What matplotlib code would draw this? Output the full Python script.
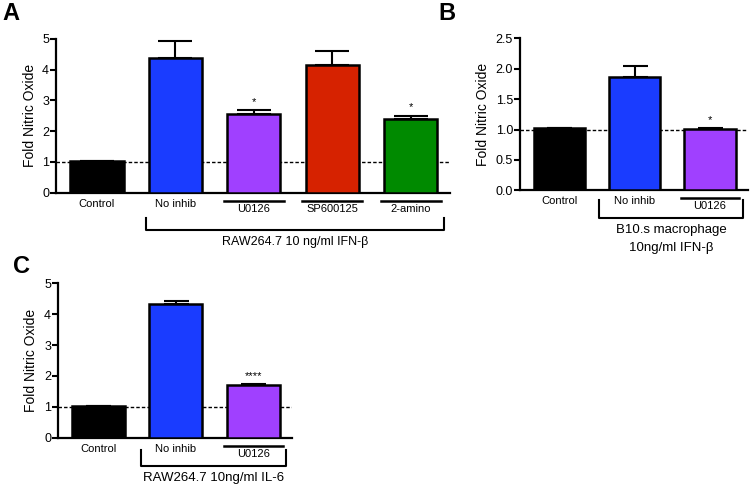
import matplotlib.pyplot as plt
import matplotlib.transforms as mtransforms

plt.rcParams['font.family'] = ['Liberation Sans', 'DejaVu Sans']

# Panel A: RAW264.7 + IFN-beta
a_labels = ["Control", "No inhib", "U0126", "SP600125", "2-amino"]
a_values = [1.02, 4.38, 2.56, 4.14, 2.41]
a_errors = [0.0, 0.54, 0.13, 0.47, 0.10]
a_colors = ["#000000", "#1a3cff", "#a040ff", "#d62200", "#008a00"]
a_stars = ["", "", "*", "", "*"]

# Panel B: B10.s macrophage + IFN-beta
b_labels = ["Control", "No inhib", "U0126"]
b_values = [1.02, 1.87, 1.01]
b_errors = [0.0, 0.17, 0.01]
b_colors = ["#000000", "#1a3cff", "#a040ff"]
b_stars = ["", "", "*"]

# Panel C: RAW264.7 + IL-6
c_labels = ["Control", "No inhib", "U0126"]
c_values = [1.03, 4.32, 1.72]
c_errors = [0.0, 0.10, 0.01]
c_colors = ["#000000", "#1a3cff", "#a040ff"]
c_stars = ["", "", "****"]


def draw_panel(ax, labels, values, errors, colors, stars, ylim, yticks, ytick_fmt,
               inhibitors, bracket, bracket_text, capsize, text_size=9.5):
    x = list(range(len(labels)))
    ax.bar(x, values, width=0.68, color=colors, edgecolor="black", linewidth=1.8, zorder=3)
    ax.errorbar(x, values, yerr=[[0] * len(errors), errors], fmt="none", ecolor="black",
                elinewidth=1.5, capsize=capsize, capthick=1.5, zorder=2)
    ax.axhline(1, color="black", linestyle=(0, (2.5, 1.5)), linewidth=1.0, zorder=1)
    for xi, v, e, s in zip(x, values, errors, stars):
        if s:
            ax.text(xi, v + e + 0.02 * ylim[1], s, ha="center", va="bottom", fontsize=8)

    ax.set_ylim(*ylim)
    ax.set_xlim(-0.52, len(labels) - 0.5)
    ax.set_yticks(yticks)
    ax.set_yticklabels([ytick_fmt.format(t) for t in yticks], fontsize=9)
    ax.set_ylabel("Fold Nitric Oxide", fontsize=10)
    ax.set_xticks([])
    for s in ["top", "right"]:
        ax.spines[s].set_visible(False)
    for s in ["left", "bottom"]:
        ax.spines[s].set_linewidth(1.6)
    ax.tick_params(axis="y", width=1.5, length=4, pad=1)

    trans = mtransforms.blended_transform_factory(ax.transData, ax.transAxes)
    h = ax.get_position().height * 486
    for xi, lab in zip(x, labels):
        if xi in inhibitors:
            ax.plot([xi - 0.38, xi + 0.38], [-8 / h, -8 / h], color="black", lw=1.8,
                    transform=trans, clip_on=False)
            ax.text(xi, -16 / h, lab, ha="center", va="center", fontsize=8, transform=trans)
        else:
            ax.text(xi, -11 / h, lab, ha="center", va="center", fontsize=8, transform=trans)

    x0, x1, ytop, ybot = bracket
    ax.plot([x0, x0, x1, x1], [ytop / h, ybot / h, ybot / h, ytop / h], color="black",
            lw=1.5, transform=trans, clip_on=False)
    ax.text((x0 + x1) / 2, (ybot - 6) / h, bracket_text, ha="center", va="top",
            fontsize=text_size, transform=trans, linespacing=1.6)


fig = plt.figure(figsize=(7.5, 4.86), dpi=100)

axA = fig.add_axes([0.0747, 0.6035, 0.5253, 0.3163])
draw_panel(axA, a_labels, a_values, a_errors, a_colors, a_stars, (0, 5), [0, 1, 2, 3, 4, 5],
           "{:d}", [2, 3, 4], (0.63, 4.42, -25, -37), "RAW264.7 10 ng/ml IFN-β", 12,
           text_size=9)

axB = fig.add_axes([0.6933, 0.6084, 0.3037, 0.3128])
draw_panel(axB, b_labels, b_values, b_errors, b_colors, b_stars, (0, 2.5),
           [0, 0.5, 1.0, 1.5, 2.0, 2.5], "{:.1f}", [2], (0.53, 2.44, -10, -28),
           "B10.s macrophage\n10ng/ml IFN-β", 9)

axC = fig.add_axes([0.0773, 0.0994, 0.312, 0.3177])
draw_panel(axC, c_labels, c_values, c_errors, c_colors, c_stars, (0, 5), [0, 1, 2, 3, 4, 5],
           "{:d}", [2], (0.55, 2.42, -12, -28), "RAW264.7 10ng/ml IL-6", 9)

fig.text(0.003, 0.995, "A", fontsize=17, fontweight="bold", va="top", ha="left")
fig.text(0.585, 0.995, "B", fontsize=17, fontweight="bold", va="top", ha="left")
fig.text(0.018, 0.475, "C", fontsize=17, fontweight="bold", va="top", ha="left")

fig.savefig("out.png", dpi=100)
